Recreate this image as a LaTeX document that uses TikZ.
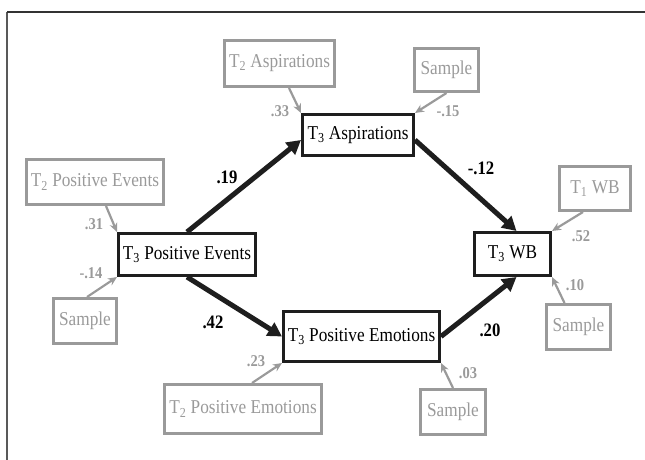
\documentclass[tikz,border=0pt]{standalone}
\usepackage{fontspec}
\setmainfont{Liberation Serif}[FakeStretch=0.88]
\usetikzlibrary{arrows.meta}
\definecolor{ctrlgray}{HTML}{9A9A9A}
\definecolor{pathblack}{HTML}{1E1E1E}

\begin{document}
\begin{tikzpicture}[x=1bp,y=-1bp]

\tikzstyle{construct}=[rectangle,draw=pathblack,line width=3bp,inner sep=0pt,font=\fontsize{19.6bp}{22bp}\selectfont]
\tikzstyle{control}=[construct,draw=ctrlgray,text=ctrlgray]
\tikzstyle{effect}=[line width=5bp,pathblack,-{Triangle[length=14bp,width=15bp]}]
\tikzstyle{ctrlpath}=[line width=2.2bp,ctrlgray,-{Stealth[length=9bp,width=8bp]}]
\tikzstyle{coef}=[font=\fontsize{19bp}{22bp}\selectfont\bfseries]
\tikzstyle{ctrlcoef}=[text=ctrlgray,font=\fontsize{16.5bp}{18bp}\selectfont\bfseries]

\useasboundingbox (0,0) rectangle (645,460);

%frame
\draw[line width=2bp,black!65] (7,460) -- (7,12);
\draw[line width=1.2bp,black!80] (7,12) -- (645,12);

%T3 constructs
\node[construct,minimum width=137bp,minimum height=42bp] (pev) at (187,254.5) {T\textsubscript{3} Positive Events};
\node[construct,minimum width=111bp,minimum height=41bp] (asp) at (358,135) {T\textsubscript{3} Aspirations};
\node[construct,minimum width=156bp,minimum height=50bp] (pem) at (361.5,336.5) {T\textsubscript{3} Positive Emotions};
\node[construct,minimum width=76bp,minimum height=43bp] (wb) at (512.5,254) {T\textsubscript{3} WB};

%paths
\draw[effect] (pev.north) -- ([yshift=-5bp]asp.west);
\draw[effect] (pev.south) -- (pem.west);
\draw[effect] ([yshift=-5bp]asp.east) -- ([xshift=4bp]wb.north);
\draw[effect] (pem.east) -- ([xshift=4bp]wb.south);

\node[coef] (b19) at (227,177) {.19};
\node[coef] (b42) at (213,322) {.42};
\node[coef] (b12) at (481,168) {-.12};
\node[coef] (b20) at (490,330) {.20};

%controls
\node[control,minimum width=110bp,minimum height=46bp] (asp2) at (279.5,63.5) {T\textsubscript{2} Aspirations};
\node[control,minimum width=64bp,minimum height=43bp] (sampasp) at (446.5,70) {Sample};
\node[control,minimum width=137bp,minimum height=45bp] (pev2) at (95,182) {T\textsubscript{2} Positive Events};
\node[control,minimum width=63bp,minimum height=45bp] (samppev) at (85,321) {Sample};
\node[control,minimum width=157bp,minimum height=49bp] (pem2) at (243,409) {T\textsubscript{2} Positive Emotions};
\node[control,minimum width=65bp,minimum height=45bp] (samppem) at (453,412) {Sample};
\node[control,minimum width=71bp,minimum height=44bp] (wb1) at (595,188.5) {T\textsubscript{1} WB};
\node[control,minimum width=64bp,minimum height=45bp] (sampwb) at (578.5,327) {Sample};

%control paths
\draw[ctrlpath] ([xshift=9.5bp]asp2.south) -- (asp.north west);
\draw[ctrlpath] (sampasp.south) -- (asp.north east);
\draw[ctrlpath] ([xshift=11bp]pev2.south) -- (pev.north west);
\draw[ctrlpath] ([xshift=2bp]samppev.north) -- (pev.south west);
\draw[ctrlpath] ([xshift=9bp]pem2.north) -- (pem.south west);
\draw[ctrlpath] (samppem.north) -- (pem.south east);
\draw[ctrlpath] ([xshift=-12bp]wb1.south) -- (wb.north east);
\draw[ctrlpath] ([xshift=-14bp]sampwb.north) -- (wb.south east);

\node[ctrlcoef] (c33) at (280,111) {.33};
\node[ctrlcoef] (c15) at (448,111) {-.15};
\node[ctrlcoef] (c31) at (94,224) {.31};
\node[ctrlcoef] (c14) at (91,273) {-.14};
\node[ctrlcoef] (c23) at (256,361) {.23};
\node[ctrlcoef] (c03) at (468,373) {.03};
\node[ctrlcoef] (c52) at (581,236) {.52};
\node[ctrlcoef] (c10) at (575,285) {.10};

\end{tikzpicture}
\end{document}
